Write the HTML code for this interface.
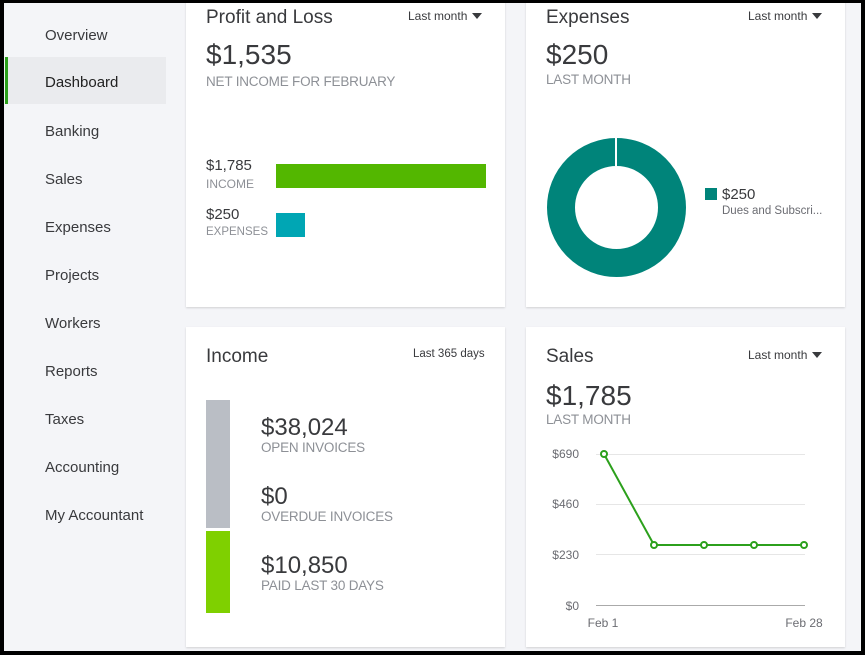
<!DOCTYPE html>
<html><head><meta charset="utf-8"><style>
*{margin:0;padding:0;box-sizing:border-box}
body{width:865px;height:655px;overflow:hidden;background:#000;font-family:"Liberation Sans",sans-serif;position:relative}
#f{position:absolute;left:4px;top:3px;width:857px;height:648px;background:#f4f5f8;overflow:hidden}
.a{position:absolute;white-space:nowrap}
.nav{left:41px;font-size:15px;color:#393a3d}
.card{position:absolute;background:#fff;box-shadow:0 1px 2px rgba(0,0,0,.15)}
.t{font-size:19px;color:#393a3d}
.big{font-size:28px;color:#393a3d}
.sub{font-size:13.5px;color:#8d9096;letter-spacing:-0.2px}
.dd{font-size:12px;color:#393a3d}
.tri{display:inline-block;width:0;height:0;border-left:5px solid transparent;border-right:5px solid transparent;border-top:6px solid #393a3d;margin-left:5px;vertical-align:1px}
</style></head><body><div id="f">
<div class="a" style="left:1px;top:54px;width:161px;height:47px;background:#eaebee;border-left:3px solid #2ca01c"></div>
<div class="a nav" style="top:24px">Overview</div>
<div class="a nav" style="top:71px;color:#222">Dashboard</div>
<div class="a nav" style="top:120px">Banking</div>
<div class="a nav" style="top:168px">Sales</div>
<div class="a nav" style="top:216px">Expenses</div>
<div class="a nav" style="top:264px">Projects</div>
<div class="a nav" style="top:312px">Workers</div>
<div class="a nav" style="top:360px">Reports</div>
<div class="a nav" style="top:408px">Taxes</div>
<div class="a nav" style="top:456px">Accounting</div>
<div class="a nav" style="top:504px">My Accountant</div>

<div class="card" style="left:182px;top:-5px;width:319px;height:309px"></div>
<div class="card" style="left:522px;top:-5px;width:319px;height:309px"></div>
<div class="card" style="left:182px;top:324px;width:319px;height:320px"></div>
<div class="card" style="left:522px;top:324px;width:319px;height:320px"></div>

<div class="a t" style="left:202px;top:4px">Profit and Loss</div>
<div class="a dd" style="left:404px;top:6px">Last month<span class="tri"></span></div>
<div class="a big" style="left:202px;top:36px">$1,535</div>
<div class="a sub" style="left:202px;top:71px">NET INCOME FOR FEBRUARY</div>
<div class="a" style="left:202px;top:154px;font-size:15px;color:#393a3d">$1,785</div>
<div class="a" style="left:202px;top:174px;font-size:12px;color:#8d9096">INCOME</div>
<div class="a" style="left:272px;top:161px;width:210px;height:24px;background:#53b700"></div>
<div class="a" style="left:202px;top:203px;font-size:15px;color:#393a3d">$250</div>
<div class="a" style="left:202px;top:223px;font-size:11.5px;color:#8d9096">EXPENSES</div>
<div class="a" style="left:272px;top:210px;width:29px;height:24px;background:#00a6b4"></div>

<div class="a t" style="left:542px;top:4px">Expenses</div>
<div class="a dd" style="left:744px;top:6px">Last month<span class="tri"></span></div>
<div class="a big" style="left:542px;top:36px">$250</div>
<div class="a sub" style="left:542px;top:69px">LAST MONTH</div>
<div class="a" style="left:543px;top:135px;width:139px;height:139px;border-radius:50%;border:28px solid #00847a"></div>
<div class="a" style="left:611px;top:135px;width:2px;height:28px;background:#fff"></div>
<div class="a" style="left:701px;top:185px;width:12px;height:12px;background:#00847a"></div>
<div class="a" style="left:718px;top:183px;font-size:15px;color:#393a3d">$250</div>
<div class="a" style="left:718px;top:202px;font-size:11.5px;color:#6b6c72">Dues and Subscri...</div>

<div class="a t" style="left:202px;top:343px">Income</div>
<div class="a" style="left:409px;top:345px;font-size:11.5px;color:#393a3d">Last 365 days</div>
<div class="a" style="left:202px;top:397px;width:24px;height:128px;background:#babec5"></div>
<div class="a" style="left:202px;top:528px;width:24px;height:82px;background:#7fd000"></div>
<div class="a" style="left:257px;top:411px;font-size:24px;color:#393a3d">$38,024</div>
<div class="a sub" style="left:257px;top:437px">OPEN INVOICES</div>
<div class="a" style="left:257px;top:480px;font-size:24px;color:#393a3d">$0</div>
<div class="a sub" style="left:257px;top:506px">OVERDUE INVOICES</div>
<div class="a" style="left:257px;top:549px;font-size:24px;color:#393a3d">$10,850</div>
<div class="a sub" style="left:257px;top:575px">PAID LAST 30 DAYS</div>

<div class="a t" style="left:542px;top:343px">Sales</div>
<div class="a dd" style="left:744px;top:345px">Last month<span class="tri"></span></div>
<div class="a big" style="left:542px;top:377px">$1,785</div>
<div class="a sub" style="left:542px;top:409px">LAST MONTH</div>
<svg class="a" style="left:0;top:0" width="857" height="648">
<g stroke="#e6e6e6" stroke-width="1"><line x1="592" y1="451.5" x2="801" y2="451.5"/><line x1="592" y1="501.5" x2="801" y2="501.5"/><line x1="592" y1="551.5" x2="801" y2="551.5"/></g>
<line x1="592" y1="602.5" x2="801" y2="602.5" stroke="#aaa"/>
<g font-size="12" fill="#6b6c72" text-anchor="end" font-family="Liberation Sans"><text x="575" y="455">$690</text><text x="575" y="505">$460</text><text x="575" y="556">$230</text><text x="575" y="607">$0</text></g>
<g font-size="12" fill="#6b6c72" text-anchor="middle" font-family="Liberation Sans"><text x="599" y="624">Feb 1</text><text x="800" y="624">Feb 28</text></g>
<polyline points="600,451 650,542 700,542 750,542 800,542" fill="none" stroke="#2ca01c" stroke-width="2"/>
<g fill="#fff" stroke="#2ca01c" stroke-width="2"><circle cx="600" cy="451" r="3"/><circle cx="650" cy="542" r="3"/><circle cx="700" cy="542" r="3"/><circle cx="750" cy="542" r="3"/><circle cx="800" cy="542" r="3"/></g>
</svg>
</div></body></html>
